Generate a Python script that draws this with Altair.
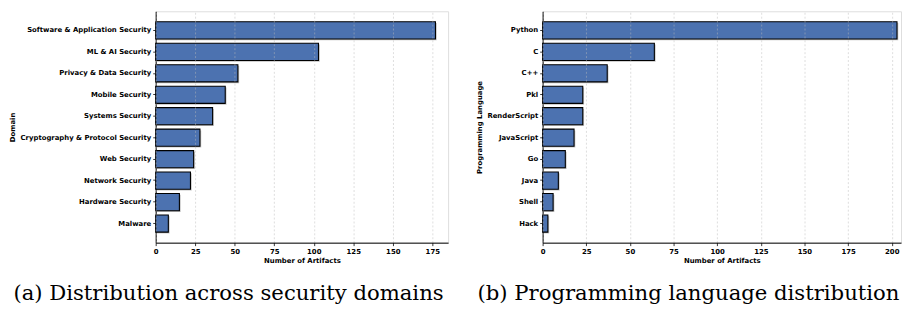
import altair as alt
import pandas as pd

domains = ["Software & Application Security", "ML & AI Security", "Privacy & Data Security",
           "Mobile Security", "Systems Security", "Cryptography & Protocol Security",
           "Web Security", "Network Security", "Hardware Security", "Malware"]
domain_counts = [177, 103, 52, 44, 36, 28, 24, 22, 15, 8]

languages = ["Python", "C", "C++", "Pkl", "RenderScript", "JavaScript", "Go", "Java", "Shell", "Hack"]
language_counts = [203, 64, 37, 23, 23, 18, 13, 9, 6, 3]

x_ticks_left = [0, 25, 50, 75, 100, 125, 150, 175]
x_ticks_right = [0, 25, 50, 75, 100, 125, 150, 175, 200]

FONT = "DejaVu Sans"
BLUE = "#4C72B0"
FS = 7


def panel(names, counts, ytitle, xmax, ticks, width, caption):
    df = pd.DataFrame({"name": names, "count": counts})
    y = alt.Y("name:N", sort=names, title=ytitle,
              scale=alt.Scale(paddingInner=0.2, paddingOuter=0.49),
              axis=alt.Axis(labelFont=FONT, labelFontWeight="bold", labelFontSize=FS,
                            labelColor="black", titleFont=FONT, titleFontWeight="bold",
                            titleFontSize=FS, titleColor="black", titlePadding=4,
                            ticks=True, tickColor="black", tickSize=3, tickWidth=0.8,
                            labelPadding=2, domainColor="black", domainWidth=1, grid=False))
    x = alt.X("count:Q", title="Number of Artifacts",
              scale=alt.Scale(domain=[0, xmax], nice=False, zero=True),
              axis=alt.Axis(values=ticks, labelFont=FONT, labelFontWeight="bold", labelFontSize=FS,
                            labelColor="black", titleFont=FONT, titleFontWeight="bold",
                            titleFontSize=FS, titleColor="black", titlePadding=2,
                            tickColor="black", tickSize=3, tickWidth=0.8, labelPadding=2,
                            domainColor="black", domainWidth=1, grid=True,
                            gridColor="#bbbbbb", gridDash=[2, 2], gridWidth=0.7,
                            gridOpacity=0.7, zindex=1, labelFlush=False))
    shadow = alt.Chart(df).mark_bar(color="#777777", opacity=0.45, xOffset=1.3, yOffset=1.3,
                                    x2Offset=1.3, y2Offset=1.3).encode(x=x, y=y)
    bars = alt.Chart(df).mark_bar(color=BLUE, stroke="black", strokeWidth=1.1).encode(
        x=alt.X("count:Q"), y=alt.Y("name:N", sort=names))
    return alt.layer(shadow, bars).properties(
        width=width, height=235,
        title=alt.TitleParams(caption, orient="bottom", anchor="middle", frame="bounds",
                              font="DejaVu Serif", fontSize=21.5, fontWeight="normal",
                              color="black", offset=20))


left = panel(domains, domain_counts, "Domain", 185, x_ticks_left, 297,
             "(a) Distribution across security domains")
right = panel(languages, language_counts, "Programming Language", 205.3, x_ticks_right, 364,
              "(b) Programming language distribution")

chart = alt.hconcat(left, right, spacing=26).properties(padding=0).configure_view(
    stroke="black", strokeWidth=1.2).configure(background="white")

chart.save("out.html", embed_options={"renderer": "svg", "actions": False})
